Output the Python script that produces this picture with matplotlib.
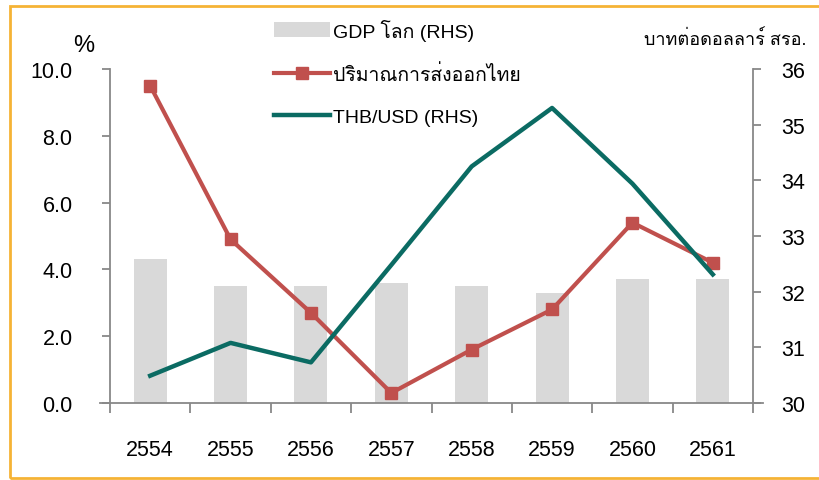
import matplotlib
matplotlib.use("Agg")
import matplotlib.pyplot as plt
from matplotlib.patches import Rectangle, Patch
from matplotlib.lines import Line2D
import numpy as np

plt.rcParams['font.family'] = ['Liberation Sans', 'Loma', 'Noto Sans Thai']

years = ["2554", "2555", "2556", "2557", "2558", "2559", "2560", "2561"]
gdp_world = [4.3, 3.5, 3.5, 3.6, 3.5, 3.3, 3.7, 3.7]
thai_exports = [9.5, 4.9, 2.7, 0.3, 1.6, 2.8, 5.4, 4.2]
thb_usd = [30.49, 31.08, 30.73, 32.48, 34.25, 35.30, 33.94, 32.31]

grey = '#888888'
red = '#C0504D'
teal = '#0B6B63'
barc = '#D9D9D9'

fig = plt.figure(figsize=(8.19, 4.81), dpi=100)
ax1 = fig.add_axes([110/819, 1-404/481, (753-110)/819, (404-70)/481])
ax2 = ax1.twinx()

x = np.arange(len(years))
ax1.bar(x, gdp_world, width=0.41, color=barc, zorder=1)
ax1.plot(x, thai_exports, color=red, lw=3, marker='s', ms=9, zorder=3)
ax2.plot(x, thb_usd, color=teal, lw=3.2, zorder=3)

ax1.set_xlim(-0.5, 7.5)
ax1.set_ylim(0, 10)
ax2.set_ylim(30, 36)
ax1.set_yticks(np.arange(0, 10.1, 2))
ax1.set_yticklabels(['%.1f' % v for v in np.arange(0, 10.1, 2)])
ax2.set_yticks(range(30, 37))
ax1.set_xticks(x)
ax1.set_xticklabels(years)
ax1.set_xticks(np.arange(-0.5, 8, 1), minor=True)

for ax in (ax1, ax2):
    for s in ax.spines.values():
        s.set_visible(False)
    ax.patch.set_visible(False)
ax1.spines['left'].set_visible(True)
ax1.spines['bottom'].set_visible(True)
ax2.spines['right'].set_visible(True)
for s in (ax1.spines['left'], ax1.spines['bottom'], ax2.spines['right']):
    s.set_color(grey)
    s.set_linewidth(1.3)
ax1.spines['bottom'].set_bounds(-0.62, 7.62)

ax1.tick_params(axis='x', which='major', length=0, pad=26, labelsize=15.5)
ax1.tick_params(axis='x', which='minor', length=7, color=grey, width=1.3)
ax1.tick_params(axis='y', length=6, color=grey, width=1.3, pad=21, labelsize=15.5)
ax2.tick_params(axis='y', length=6, color=grey, width=1.3, pad=14, labelsize=15.5)

fig.text(84/819, 1-46/481, '%', fontsize=17, ha='center', va='center')
fig.text(806/819, 1-40/481, 'บาทต่อดอลลาร์ สรอ.', fontsize=13, ha='right', va='center')

handles = [Patch(facecolor=barc, edgecolor='none'),
           Line2D([], [], color=red, lw=3, marker='s', ms=9),
           Line2D([], [], color=teal, lw=3.2)]
labels = ['GDP โลก (RHS)', 'ปริมาณการส่งออกไทย', 'THB/USD (RHS)']
fig.legend(handles, labels, loc='upper left', bbox_to_anchor=(256/819, 1-2/481),
           frameon=False, fontsize=14, handlelength=2.9, handleheight=0.8,
           handletextpad=0.15, labelspacing=1.22)

# orange frame, open on the right like the original crop
border = Rectangle((10/819, 2/481), 820/819, 472/481, transform=fig.transFigure,
                   fill=False, edgecolor='#F5B335', lw=2, clip_on=False)
fig.patches.append(border)

fig.savefig('out.png', dpi=100)
